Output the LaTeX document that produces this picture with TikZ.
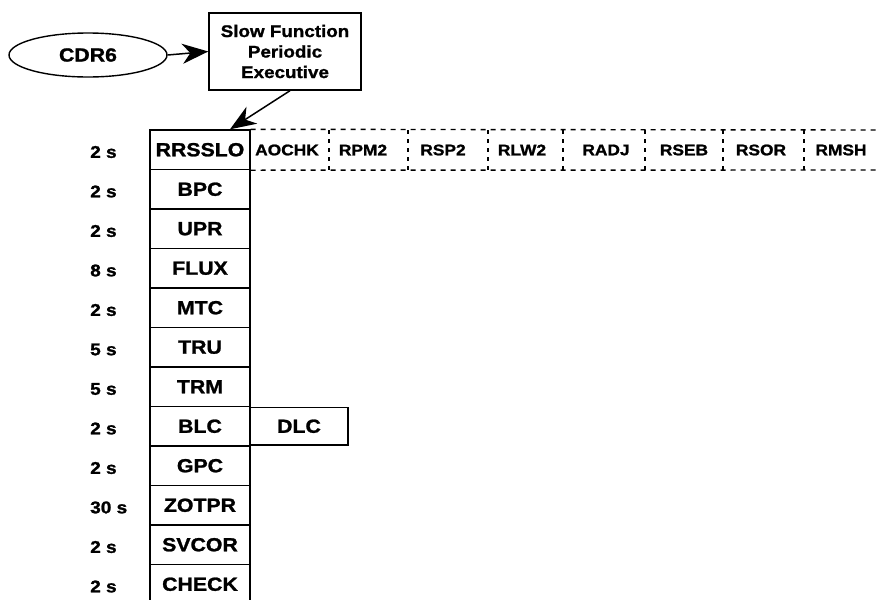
\documentclass[tikz,border=0pt]{standalone}
\usepackage{fontspec}
\setmainfont[FakeStretch=1.12, BoldFeatures={FakeBold=1.3}]{Liberation Sans}
\usetikzlibrary{shapes.geometric,arrows.meta}
\begin{document}
\begin{tikzpicture}[x=1pt,y=-1pt,
  rowbox/.style={draw, line width=1.4pt, minimum width=100pt, minimum height=39.5pt, inner sep=0pt, font=\fontsize{19}{21}\selectfont\bfseries},
  tlab/.style={anchor=west, inner sep=0pt, font=\fontsize{17}{19}\selectfont\bfseries},
  sublab/.style={inner sep=0pt, font=\fontsize{15.5}{17}\selectfont\bfseries},
  dsh/.style={line width=1.4pt, dash pattern=on 5pt off 5pt},
  vdsh/.style={line width=1.4pt, dash pattern=on 4pt off 5pt},
  arr/.style={line width=1.5pt, -{Stealth[length=26pt,width=20pt,inset=8pt]}}
]
\useasboundingbox (0,0) rectangle (876,600);

% top
\node[draw, ellipse, line width=1.4pt, minimum width=158pt, minimum height=44pt, inner sep=0pt,
      font=\fontsize{19}{21}\selectfont\bfseries] (cdr) at (88,55) {CDR6};
\node[draw, line width=1.4pt, minimum width=152pt, minimum height=77pt, inner sep=0pt, align=center,
      font=\fontsize{16.8}{20.5}\selectfont\bfseries] (sfpe) at (285,51.5) {Slow Function\\Periodic\\Executive};

% column of rows
\foreach \nm/\tm [count=\i from 0] in {RRSSLO/2 s, BPC/2 s, UPR/2 s, FLUX/8 s, MTC/2 s, TRU/5 s, TRM/5 s, BLC/2 s, GPC/2 s, ZOTPR/30 s, SVCOR/2 s, CHECK/2 s} {
  \node[rowbox] (r\i) at (200,149.75+39.5*\i) {\nm};
  \node[tlab] (t\i) at (90,152+39.5*\i) {\tm};
}

% DLC beside BLC
\node[rowbox, minimum width=98pt, minimum height=37.5pt] (dlc) at (299,426.25) {DLC};

% dashed row
\coordinate (dtr) at (876,130);
\coordinate (dbr) at (876,170);
\draw[dsh] (r0.north east) -- (dtr);
\draw[dsh] (r0.south east) -- (dbr);
\foreach \x in {329,408,488,563,645,723,804} \draw[vdsh] (\x,130) -- (\x,170);
\foreach \nm/\x in {AOCHK/287, RPM2/363, RSP2/443, RLW2/522, RADJ/606, RSEB/684, RSOR/761, RMSH/841}
  \node[sublab] (s\nm) at (\x,150) {\nm};

% arrows
\draw[arr] (cdr.east) -- (sfpe.west);
\draw[arr] ([xshift=5pt]sfpe.south) -- ([xshift=30pt]r0.north);
\end{tikzpicture}
\end{document}
